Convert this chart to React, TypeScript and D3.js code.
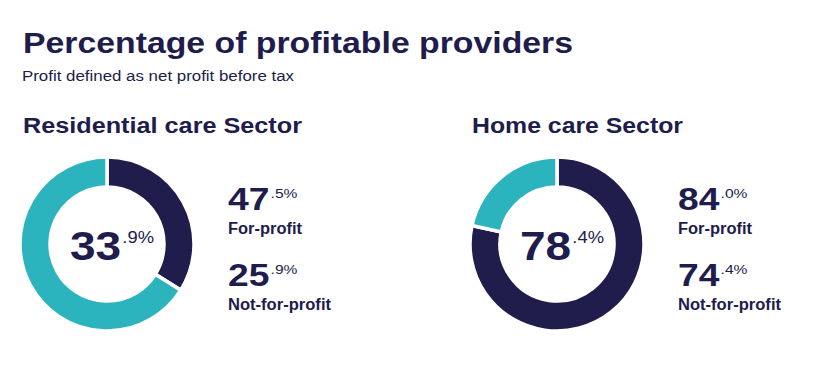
import React, { useEffect, useRef } from 'react';
import * as d3 from 'd3';

const sectors = ['Residential care Sector', 'Home care Sector'];
const overallPct = [33.9, 78.4];
const forProfitPct = [47.5, 84.0];
const notForProfitPct = [25.9, 74.4];
const groupLabels = ['For-profit', 'Not-for-profit'];

const NAVY = '#201c4b';
const TEAL = '#2bb4bd';
const FONT = '"Liberation Sans", Arial, sans-serif';

const splitPct = (v: number) => {
  const [whole, dec] = v.toFixed(1).split('.');
  return { whole, rest: `.${dec}%` };
};

const App = () => {
  const ref = useRef<SVGSVGElement>(null);

  useEffect(() => {
    const svg = d3.select(ref.current);
    svg.selectAll('*').remove();

    // the source text is set a bit wider than Arial, so stretch to its widths
    const stretch = 'spacingAndGlyphs';

    svg
      .append('text')
      .attr('x', 23)
      .attr('y', 53)
      .attr('font-size', 30)
      .attr('font-weight', 'bold')
      .attr('fill', NAVY)
      .attr('textLength', 550)
      .attr('lengthAdjust', stretch)
      .text('Percentage of profitable providers');

    svg
      .append('text')
      .attr('x', 22)
      .attr('y', 81)
      .attr('font-size', 14)
      .attr('fill', NAVY)
      .attr('textLength', 272)
      .attr('lengthAdjust', stretch)
      .text('Profit defined as net profit before tax');

    const outerR = 87;
    const innerR = 57;
    const pie = d3
      .pie<number>()
      .sort(null)
      .value((d) => d);
    const arc = d3.arc<d3.PieArcDatum<number>>().innerRadius(innerR).outerRadius(outerR);

    const panelX = [23, 472];
    const headWidth = [279, 211];
    const centerX = [107, 557];
    const centerY = 244;

    sectors.forEach((name, i) => {
      svg
        .append('text')
        .attr('x', panelX[i])
        .attr('y', 133)
        .attr('font-size', 22)
        .attr('font-weight', 'bold')
        .attr('fill', NAVY)
        .attr('textLength', headWidth[i])
        .attr('lengthAdjust', stretch)
        .text(name);

      const g = svg.append('g').attr('transform', `translate(${centerX[i]},${centerY})`);
      g.selectAll('path')
        .data(pie([overallPct[i], 100 - overallPct[i]]))
        .enter()
        .append('path')
        .attr('d', arc)
        .attr('fill', (_, j) => (j === 0 ? NAVY : TEAL))
        .attr('stroke', 'white')
        .attr('stroke-width', 3.5);

      const c = splitPct(overallPct[i]);
      const ct = g
        .append('text')
        .attr('transform', `translate(${-37},16) scale(1.15,1)`)
        .attr('fill', NAVY)
        .attr('font-weight', 'bold');
      ct.append('tspan').attr('font-size', 40).text(c.whole);
      ct.append('tspan')
        .attr('font-size', 16)
        .attr('font-weight', 'normal')
        .attr('dx', 1)
        .attr('dy', -17)
        .text(c.rest);

      const lx = centerX[i] + 121;
      [forProfitPct[i], notForProfitPct[i]].forEach((v, k) => {
        const base = 210 + k * 76;
        const p = splitPct(v);
        const t = svg
          .append('text')
          .attr('transform', `translate(${lx},${base}) scale(1.2,1)`)
          .attr('fill', NAVY)
          .attr('font-weight', 'bold');
        t.append('tspan').attr('font-size', 31).text(p.whole);
        t.append('tspan')
          .attr('font-size', 13)
          .attr('font-weight', 'normal')
          .attr('dx', 1)
          .attr('dy', -12)
          .text(p.rest);

        svg
          .append('text')
          .attr('x', lx)
          .attr('y', base + 24)
          .attr('font-size', 16)
          .attr('font-weight', 'bold')
          .attr('fill', NAVY)
          .attr('textLength', k === 0 ? 74 : 103)
          .attr('lengthAdjust', stretch)
          .text(groupLabels[k]);
      });
    });
  }, []);

  return (
    <svg
      ref={ref}
      width={840}
      height={366}
      style={{ position: 'absolute', left: 0, top: 0, background: 'white', fontFamily: FONT }}
    />
  );
};

export default App;
